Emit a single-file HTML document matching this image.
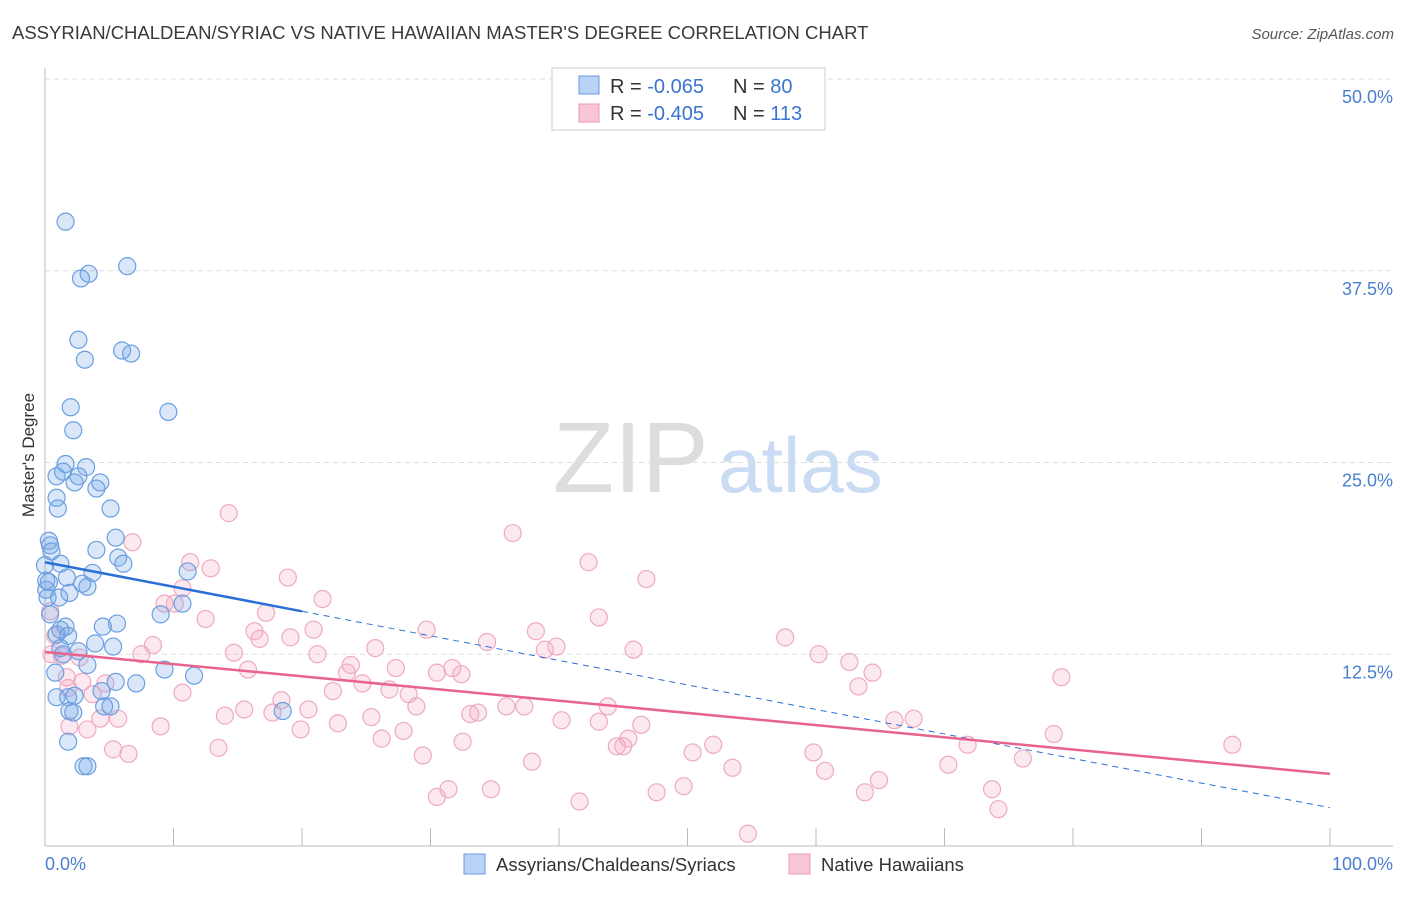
<!DOCTYPE html>
<html><head><meta charset="utf-8"><style>
body{margin:0;background:#fff;font-family:"Liberation Sans",sans-serif}
svg text{font-family:"Liberation Sans",sans-serif}
</style></head><body>
<svg id="chart" width="1406" height="892" xmlns="http://www.w3.org/2000/svg">
<text x="12" y="39" font-size="18.5" fill="#3a3a3a">ASSYRIAN/CHALDEAN/SYRIAC VS NATIVE HAWAIIAN MASTER'S DEGREE CORRELATION CHART</text>
<text x="1394" y="39" font-size="15" fill="#555" font-style="italic" text-anchor="end">Source: ZipAtlas.com</text>
<text x="0" y="0" font-size="17" fill="#333" transform="translate(34,455) rotate(-90)" text-anchor="middle">Master's Degree</text>
<g>
<text x="553" y="492" font-size="100" fill="#ddd" font-family="Liberation Serif">ZIP</text>
<text x="718" y="492" font-size="78" fill="#c9dcf3">atlas</text>
</g>
<g id="grid"></g>
<g id="axes"></g>
<g id="points"></g>
<g id="trends"></g>
<g>
<rect x="552" y="68" width="273" height="62" fill="#fff" stroke="#ccc"/>
<rect x="579" y="76" width="20" height="18" fill="#b9d3f5" stroke="#6a9ae0"/>
<rect x="579" y="104" width="20" height="18" fill="#f9c6d6" stroke="#e99ab4"/>
<text x="610" y="93" font-size="20" fill="#333">R = <tspan fill="#3b74d0">-0.065</tspan><tspan x="733">N = </tspan><tspan fill="#3b74d0">80</tspan></text>
<text x="610" y="120" font-size="20" fill="#333">R = <tspan fill="#3b74d0">-0.405</tspan><tspan x="733">N = </tspan><tspan fill="#3b74d0">113</tspan></text>
</g>
<g>
<rect x="464" y="854" width="21" height="20" fill="#b9d3f5" stroke="#6a9ae0"/>
<text x="496" y="871" font-size="18.5" fill="#333">Assyrians/Chaldeans/Syriacs</text>
<rect x="789" y="854" width="21" height="20" fill="#f9c6d6" stroke="#e99ab4"/>
<text x="821" y="871" font-size="18.5" fill="#333">Native Hawaiians</text>
</g>
</svg>
<script>
const yTicks=[12.5,25.0,37.5,50.0];
const yTickLabels=["12.5%","25.0%","37.5%","50.0%"];
const xTickCount=10;
const blueX=[1.6,6.4,3.4,2.8,2.6,6.0,6.7,3.1,9.6,2.0,2.2,1.6,3.2,0.9,1.4,2.6,4.3,2.3,4.0,0.9,1.0,5.1,0.3,0.5,5.5,4.0,5.7,6.1,11.1,1.2,0.0,3.7,1.7,2.9,0.3,0.1,3.3,1.9,1.1,10.7,9.0,5.6,1.6,4.5,0.9,1.8,3.9,5.3,1.2,2.6,1.4,3.3,9.3,11.6,0.8,5.5,7.1,4.4,0.9,1.8,2.3,5.1,4.6,1.9,2.2,18.5,1.8,3.0,3.3,0.4,0.1,0.2,0.4,1.2];
const blueY=[40.7,37.8,37.3,37.0,33.0,32.3,32.1,31.7,28.3,28.6,27.1,24.9,24.7,24.1,24.4,24.1,23.7,23.7,23.3,22.7,22.0,22.0,19.9,19.2,20.1,19.3,18.8,18.4,17.9,18.4,18.3,17.8,17.5,17.1,17.2,16.7,16.9,16.5,16.2,15.8,15.1,14.5,14.3,14.3,13.8,13.7,13.2,13.0,12.9,12.7,12.5,11.8,11.5,11.1,11.3,10.7,10.6,10.1,9.7,9.7,9.8,9.1,9.1,8.8,8.7,8.8,6.8,5.2,5.2,19.6,17.3,16.2,15.1,14.1];
const pinkX=[14.3,36.4,6.8,11.3,42.3,12.9,18.9,46.8,10.7,9.3,21.6,10.1,17.2,43.1,12.5,0.4,8.4,29.7,38.2,20.9,0.8,16.3,16.7,19.1,34.4,57.6,39.8,38.9,25.7,45.8,60.2,7.5,2.7,1.3,0.5,21.2,62.6,23.8,23.5,64.4,27.3,14.7,15.8,31.7,30.5,32.4,24.7,79.1,1.7,2.9,63.3,4.7,1.8,22.4,10.7,26.8,3.7,28.3,18.4,28.9,43.8,15.5,35.9,37.3,20.5,33.7,17.7,33.1,5.7,14.0,4.3,25.4,43.1,66.1,67.6,40.2,46.4,3.3,9.0,19.9,22.8,27.9,26.2,78.5,45.4,32.5,13.5,52.0,44.5,45.0,5.3,6.5,29.4,50.4,59.8,71.8,76.1,92.4,37.9,53.5,60.7,70.3,64.9,31.4,49.7,30.5,34.7,63.8,47.6,41.6,73.7,74.2,54.7,1.9];
const pinkY=[21.7,20.4,19.8,18.5,18.5,18.1,17.5,17.4,16.8,15.8,16.1,15.8,15.2,14.9,14.8,15.3,13.1,14.1,14.0,14.1,13.7,14.0,13.5,13.6,13.3,13.6,13.0,12.8,12.9,12.8,12.5,12.5,12.3,12.4,12.5,12.5,12.0,11.8,11.3,11.3,11.6,12.6,11.5,11.6,11.3,11.2,10.6,11.0,11.0,10.7,10.4,10.6,10.3,10.1,10.0,10.2,9.9,9.9,9.5,9.1,9.1,8.9,9.1,9.1,8.9,8.7,8.7,8.6,8.3,8.5,8.3,8.4,8.1,8.2,8.3,8.2,7.9,7.6,7.8,7.6,8.0,7.5,7.0,7.3,7.0,6.8,6.4,6.6,6.5,6.5,6.3,6.0,5.9,6.1,6.1,6.6,5.7,6.6,5.5,5.1,4.9,5.3,4.3,3.7,3.9,3.2,3.7,3.5,3.5,2.9,3.7,2.4,0.8,7.8];
const blueTrend=[18.5,2.5];
const blueSolidEnd=20;
const pinkTrend=[12.65,4.7];

const NS="http://www.w3.org/2000/svg";
const X0=45,X1=1330,Y0=846,Y50=79;
const sx=v=>X0+(X1-X0)*v/100;
const sy=v=>Y0-(Y0-Y50)*v/50;
function mk(tag,attrs,parent){const e=document.createElementNS(NS,tag);for(const k in attrs)e.setAttribute(k,attrs[k]);parent.appendChild(e);return e;}
const grid=document.getElementById('grid'),axes=document.getElementById('axes'),pts=document.getElementById('points'),tr=document.getElementById('trends');
yTicks.forEach((t,i)=>{
 const l=mk('line',{x1:X0,x2:1393,y1:sy(t),y2:sy(t),stroke:'#ddd','stroke-dasharray':'5,4'},grid);
 
 
 const tx=mk('text',{x:1393,y:sy(t)+24,'font-size':18,fill:'#4a7fd0','text-anchor':'end'},axes);
 tx.textContent=yTickLabels[i];
 
 
});
const ax=mk('line',{x1:X0,x2:X0,y1:68,y2:Y0,stroke:'#bbb'},axes);


const bx=mk('line',{x1:X0,x2:1393,y1:Y0,y2:Y0,stroke:'#bbb'},axes);


for(let i=0;i<=xTickCount;i++){
 const t=mk('line',{x1:sx(i*100/xTickCount),x2:sx(i*100/xTickCount),y1:Y0-18,y2:Y0,stroke:'#bbb'},axes);
 
 
}
const xl=mk('text',{x:45,y:870,'font-size':18,fill:'#4a7fd0'},axes);xl.textContent='0.0%';


const xr=mk('text',{x:1393,y:870,'font-size':18,fill:'#4a7fd0','text-anchor':'end'},axes);xr.textContent='100.0%';


pinkX.forEach((x,i)=>{
 const c=mk('circle',{cx:sx(x),cy:sy(pinkY[i]),r:8.5,fill:'rgba(244,165,192,0.25)',stroke:'#eeaac2','stroke-width':1.2},pts);
 
 
});
blueX.forEach((x,i)=>{
 const c=mk('circle',{cx:sx(x),cy:sy(blueY[i]),r:8.5,fill:'rgba(120,170,235,0.28)',stroke:'#6b9fe0','stroke-width':1.2},pts);
 
 
});
const bAt=x=>blueTrend[0]+(blueTrend[1]-blueTrend[0])*x/100;
const bs=mk('line',{x1:sx(0),y1:sy(bAt(0)),x2:sx(blueSolidEnd),y2:sy(bAt(blueSolidEnd)),stroke:'#2a6fd6','stroke-width':2.5},tr);


const bd=mk('line',{x1:sx(blueSolidEnd),y1:sy(bAt(blueSolidEnd)),x2:sx(100),y2:sy(bAt(100)),stroke:'#2a6fd6','stroke-width':1,'stroke-dasharray':'6,5'},tr);


const pl=mk('line',{x1:sx(0),y1:sy(pinkTrend[0]),x2:sx(100),y2:sy(pinkTrend[1]),stroke:'#e6648e','stroke-width':2.5},tr);


</script>
</body></html>
